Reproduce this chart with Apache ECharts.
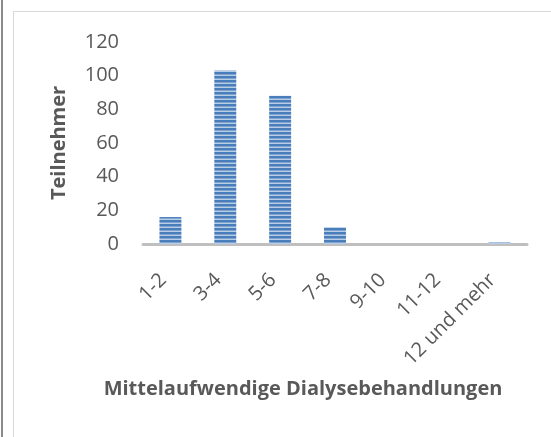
<!DOCTYPE html>
<html>
<head>
<meta charset="utf-8">
<script src="https://cdn.jsdelivr.net/npm/echarts@6/dist/echarts.min.js"></script>
<style>
  html, body { margin: 0; padding: 0; background: #fff; }
  #frame { position: absolute; left: 0; top: 0; width: 551px; height: 437px; }
  #edge { position: absolute; left: 1px; top: 0; width: 2px; height: 437px; background: #8a8a8a; }
  #box { position: absolute; left: 13px; top: 11px; width: 560px; height: 440px; border: 1px solid #d9d9d9; }
  #main { position: absolute; left: 0; top: 0; width: 551px; height: 437px; }
</style>
</head>
<body>
<div id="frame">
  <div id="edge"></div>
  <div id="box"></div>
  <div id="main"></div>
</div>
<script>
// Daten
var categories = ["1-2", "3-4", "5-6", "7-8", "9-10", "11-12", "12 und mehr"];
var teilnehmer = [16, 103, 88, 10, 0, 0, 1];
var yTicks = [0, 20, 40, 60, 80, 100, 120];

// gestreiftes Muster fuer die Balken
function stripes() {
  var c = document.createElement("canvas");
  c.width = 4;
  c.height = 4;
  var ctx = c.getContext("2d");
  ctx.fillStyle = "#4a7ebb";
  ctx.fillRect(0, 0, 4, 2);
  ctx.fillStyle = "#7fa3d1";
  ctx.fillRect(0, 2, 4, 1);
  ctx.fillStyle = "#b9cde6";
  ctx.fillRect(0, 3, 4, 1);
  return c;
}

var chart = echarts.init(document.getElementById("main"), null, { renderer: "canvas" });
var font = "'Open Sans', 'Liberation Sans', sans-serif";

var option = {
  backgroundColor: "transparent",
  animation: false,
  graphic: [
    {
      type: "text",
      x: 303,
      y: 389,
      style: {
        text: "Mittelaufwendige Dialysebehandlungen",
        fill: "#595959",
        font: "bold 20px " + font,
        align: "center",
        verticalAlign: "middle"
      }
    }
  ],
  grid: {
    left: 143,
    right: 24,
    top: 42,
    bottom: 193
  },
  xAxis: {
    type: "category",
    data: categories,
    axisLine: {
      lineStyle: { color: "#bfbfbf", width: 3 }
    },
    axisTick: { show: false },
    axisLabel: {
      interval: 0,
      rotate: 45,
      margin: 40,
      verticalAlign: "bottom",
      color: "#595959",
      fontSize: 20,
      fontFamily: font
    }
  },
  yAxis: {
    type: "value",
    min: yTicks[0],
    max: yTicks[yTicks.length - 1],
    interval: 20,
    name: "Teilnehmer",
    nameLocation: "middle",
    nameGap: 74,
    nameRotate: 90,
    nameTextStyle: {
      color: "#595959",
      fontSize: 20,
      fontWeight: "bold",
      fontFamily: font
    },
    axisLine: { show: false },
    axisTick: { show: false },
    splitLine: { show: false },
    axisLabel: {
      margin: 24,
      color: "#595959",
      fontSize: 20,
      fontFamily: font
    }
  },
  series: [
    {
      type: "bar",
      data: teilnehmer,
      barWidth: "40%",
      itemStyle: {
        color: { image: stripes(), repeat: "repeat" }
      }
    }
  ]
};

chart.setOption(option);
</script>
</body>
</html>
